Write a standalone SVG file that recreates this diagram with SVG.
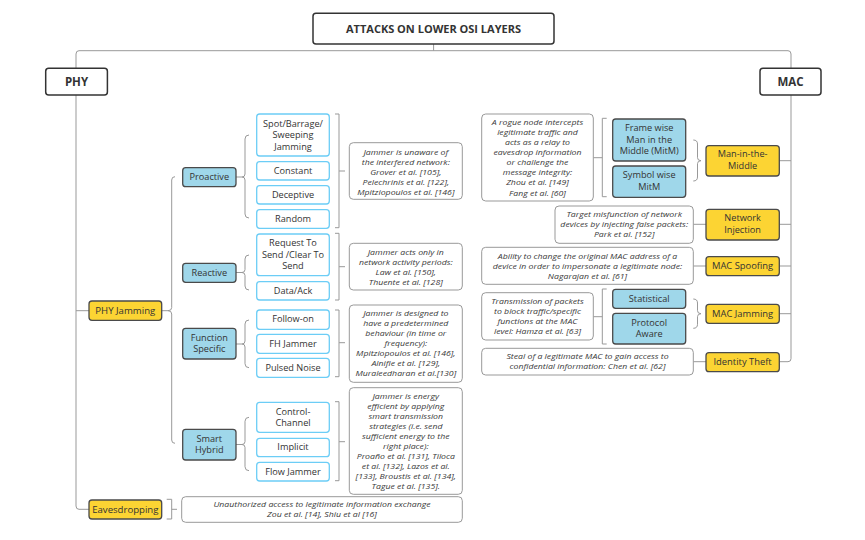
<svg xmlns="http://www.w3.org/2000/svg" width="865" height="540" viewBox="0 0 865 540">
<style>
text{font-family:"Open Sans","Liberation Sans",sans-serif;fill:#333;text-anchor:middle}
.t{font-size:8.2px}
.n{font-size:7.3px;font-style:italic;fill:#383838}
.b{font-weight:bold}
.lb{fill:#fff;stroke:#6ccdf6;stroke-width:1.3}
.bl{fill:#9fd7ea;stroke:#4a4a4a;stroke-width:1.3}
.ye{fill:#fcd433;stroke:#4a4a4a;stroke-width:1.3}
.nt{fill:#fff;stroke:#999;stroke-width:1}
.hd{fill:#fff;stroke:#333;stroke-width:1.5}
.c path,.c line{fill:none;stroke:#999;stroke-width:1}
</style>
<rect width="865" height="540" fill="#fff"/>
<g class="c" id="connectors">
<line x1="433.6" y1="44" x2="433.6" y2="50.7"/>
<path d="M76 68V54Q76 50.7 79 50.7H788Q791 50.7 791 54V68"/>
<path d="M76 95V506Q76 509.3 79 509.3H89"/>
<line x1="76" y1="310.7" x2="89" y2="310.7"/>
<line x1="161.7" y1="310.7" x2="168" y2="310.7"/>
<path d="M175 176.7Q171.7 176.7 171.7 180V307.5Q171.7 310.7 168 310.7Q171.7 310.7 171.7 314V440Q171.7 443.3 175 443.3"/>
<line x1="236" y1="177" x2="242" y2="177"/>
<line x1="236" y1="272.5" x2="242" y2="272.5"/>
<line x1="236" y1="344" x2="242" y2="344"/>
<line x1="236" y1="444.5" x2="242" y2="444.5"/>
<path d="M249 135Q245 135 245 139V174Q245 177 242 177Q245 177 245 180V214Q245 218 249 218"/>
<path d="M249 255Q245 255 245 259V269.5Q245 272.5 242 272.5Q245 272.5 245 275.5V286Q245 290 249 290"/>
<path d="M249 320Q245 320 245 324V341Q245 344 242 344Q245 344 245 347V363.7Q245 367.7 249 367.7"/>
<path d="M249 417.3Q245 417.3 245 421.3V441.5Q245 444.5 242 444.5Q245 444.5 245 447.5V466.7Q245 470.7 249 470.7"/>
<path d="M335 114H339V227.7H335M339 171H345"/>
<path d="M335 233.3H339V300H335M339 266.7H345"/>
<path d="M335 310H339V376.7H335M339 342.7H345"/>
<path d="M335 401.7H339V480.7H335M339 441.7H345"/>
<path d="M166.7 499.3H171.7V519H166.7M171.7 509.3H177"/>
<path d="M593.3 157.7H602.3M606.7 118.3H602.3V196.7H606.7"/>
<path d="M593.3 316.7H602.3M606.7 289H602.3V344H606.7"/>
<path d="M693.3 140Q697.5 140 697.5 144V157.7Q697.5 160.7 701 160.7Q697.5 160.7 697.5 163.7V177Q697.5 181 693.3 181"/>
<path d="M693.3 299Q697.5 299 697.5 303V310.7Q697.5 313.7 701 313.7Q697.5 313.7 697.5 316.7V324.3Q697.5 328.3 693.3 328.3"/>
<line x1="693.3" y1="224.3" x2="706" y2="224.3"/>
<line x1="693.3" y1="266" x2="706" y2="266"/>
<line x1="693.3" y1="361.7" x2="706" y2="361.7"/>
<path d="M791 95V358.7Q791 361.7 788 361.7H779.3"/>
<line x1="779.3" y1="160.7" x2="791" y2="160.7"/>
<line x1="779.3" y1="224.3" x2="791" y2="224.3"/>
<line x1="779.3" y1="266" x2="791" y2="266"/>
<line x1="779.3" y1="313.7" x2="791" y2="313.7"/>
</g>
<g id="title"><rect class="hd" x="313" y="13.3" width="241" height="30.7" rx="3"/><text class="b" x="433.5" y="32.5" font-size="11">ATTACKS ON LOWER OSI LAYERS</text></g>
<g id="phy"><rect class="hd" x="45.7" y="68.3" width="61.7" height="26.7" rx="3"/><text class="b" x="76.5" y="85.5" font-size="11.5">PHY</text></g>
<g id="mac"><rect class="hd" x="760" y="68.3" width="61" height="26.7" rx="3"/><text class="b" x="790.5" y="85.5" font-size="11.5">MAC</text></g>
<g id="phy-jamming"><rect class="ye" x="89" y="301" width="72.7" height="19.3" rx="3"/><text x="125.3" y="314" font-size="9.6">PHY Jamming</text></g>
<g id="eavesdropping"><rect class="ye" x="89" y="500" width="72.7" height="19" rx="3"/><text x="125.3" y="513" font-size="9.6">Eavesdropping</text></g>
<g id="proactive"><rect class="bl" x="182.7" y="167.7" width="53.3" height="19" rx="3"/><g transform="translate(209.3 0) scale(1.12 1)"><text class="t" y="180.3">Proactive</text></g></g>
<g id="reactive"><rect class="bl" x="182.7" y="263.3" width="53.3" height="19" rx="3"/><g transform="translate(209.3 0) scale(1.12 1)"><text class="t" y="275.8">Reactive</text></g></g>
<g id="function-specific"><rect class="bl" x="182.7" y="328.3" width="53.3" height="30.7" rx="3"/><g transform="translate(209.3 0) scale(1.12 1)"><text class="t" y="341">Function</text><text class="t" y="352.3">Specific</text></g></g>
<g id="smart-hybrid"><rect class="bl" x="182.7" y="429.3" width="53.3" height="30.7" rx="3"/><g transform="translate(209.3 0) scale(1.12 1)"><text class="t" y="441.7">Smart</text><text class="t" y="453">Hybrid</text></g></g>
<g id="spot"><rect class="lb" x="256.7" y="114" width="72.6" height="42" rx="3"/><g transform="translate(293 0) scale(1.12 1)"><text class="t" y="127">Spot/Barrage/</text><text class="t" y="138.3">Sweeping</text><text class="t" y="149.6">Jamming</text></g></g>
<g id="constant"><rect class="lb" x="256.7" y="161.7" width="72.6" height="18.3" rx="3"/><g transform="translate(293 0) scale(1.12 1)"><text class="t" y="173.8">Constant</text></g></g>
<g id="deceptive"><rect class="lb" x="256.7" y="185.7" width="72.6" height="18.3" rx="3"/><g transform="translate(293 0) scale(1.12 1)"><text class="t" y="197.8">Deceptive</text></g></g>
<g id="random"><rect class="lb" x="256.7" y="209.7" width="72.6" height="18.6" rx="3"/><g transform="translate(293 0) scale(1.12 1)"><text class="t" y="222">Random</text></g></g>
<g id="rts"><rect class="lb" x="256.7" y="234" width="72.6" height="41.7" rx="3"/><g transform="translate(293 0) scale(1.12 1)"><text class="t" y="246.5">Request To</text><text class="t" y="257.8">Send /Clear To</text><text class="t" y="269.1">Send</text></g></g>
<g id="data-ack"><rect class="lb" x="256.7" y="281.7" width="72.6" height="18.3" rx="3"/><g transform="translate(293 0) scale(1.12 1)"><text class="t" y="293.8">Data/Ack</text></g></g>
<g id="follow-on"><rect class="lb" x="256.7" y="310" width="72.6" height="19.3" rx="3"/><g transform="translate(293 0) scale(1.12 1)"><text class="t" y="322.5">Follow-on</text></g></g>
<g id="fh-jammer"><rect class="lb" x="256.7" y="334.3" width="72.6" height="19" rx="3"/><g transform="translate(293 0) scale(1.12 1)"><text class="t" y="346.8">FH Jammer</text></g></g>
<g id="pulsed-noise"><rect class="lb" x="256.7" y="358.3" width="72.6" height="19" rx="3"/><g transform="translate(293 0) scale(1.12 1)"><text class="t" y="370.8">Pulsed Noise</text></g></g>
<g id="control-channel"><rect class="lb" x="256.7" y="402.3" width="72.6" height="30" rx="3"/><g transform="translate(293 0) scale(1.12 1)"><text class="t" y="414.7">Control-</text><text class="t" y="426">Channel</text></g></g>
<g id="implicit"><rect class="lb" x="256.7" y="438.3" width="72.6" height="18.4" rx="3"/><g transform="translate(293 0) scale(1.12 1)"><text class="t" y="450.5">Implicit</text></g></g>
<g id="flow-jammer"><rect class="lb" x="256.7" y="462.3" width="72.6" height="18.7" rx="3"/><g transform="translate(293 0) scale(1.12 1)"><text class="t" y="474.6">Flow Jammer</text></g></g>
<g id="note-proactive"><rect class="nt" x="349.3" y="142.7" width="113" height="56.6" rx="4"/><g transform="translate(405.8 0) scale(1.2 1)">
<text class="n" y="154.8">Jammer is unaware of</text><text class="n" y="164.8">the interfered network:</text><text class="n" y="174.8">Grover et al. [105],</text><text class="n" y="184.8">Pelechrinis et al. [122],</text><text class="n" y="194.8">Mpitziopoulos et al. [146]</text></g></g>
<g id="note-reactive"><rect class="nt" x="349.3" y="243.3" width="113" height="46.7" rx="4"/><g transform="translate(405.8 0) scale(1.2 1)">
<text class="n" y="255">Jammer acts only in</text><text class="n" y="265">network activity periods:</text><text class="n" y="275">Law et al. [150],</text><text class="n" y="285">Thuente et al. [128]</text></g></g>
<g id="note-function"><rect class="nt" x="349.3" y="305" width="113" height="77.3" rx="4"/><g transform="translate(405.8 0) scale(1.2 1)">
<text class="n" y="316">Jammer is designed to</text><text class="n" y="326">have a predetermined</text><text class="n" y="336">behaviour (in time or</text><text class="n" y="346">frequency):</text><text class="n" y="356">Mpitziopoulos et al. [146],</text><text class="n" y="366">Alnifie et al. [129],</text><text class="n" y="376.4">Muraleedharan et al.[130]</text></g></g>
<g id="note-smart"><rect class="nt" x="349.3" y="387.7" width="113" height="106.6" rx="4"/><g transform="translate(405.8 0) scale(1.2 1)">
<text class="n" y="398.7">Jammer is energy</text><text class="n" y="408.7">efficient by applying</text><text class="n" y="418.7">smart transmission</text><text class="n" y="428.7">strategies (i.e. send</text><text class="n" y="438.7">sufficient energy to the</text><text class="n" y="448.7">right place):</text><text class="n" y="458.7">Proaño et al. [131], Tiloca</text><text class="n" y="468.7">et al. [132], Lazos et al.</text><text class="n" y="479">[133],  Broustis et al. [134],</text><text class="n" y="489.2">Tague et al. [135].</text></g></g>
<g id="note-eaves"><rect class="nt" x="181.7" y="496.7" width="280.6" height="25.6" rx="4"/><g transform="translate(322 0) scale(1.2 1)">
<text class="n" y="507">Unauthorized access to legitimate information exchange</text><text class="n" y="517">Zou et al. [14], Shiu et al [16]</text></g></g>
<g id="note-mitm"><rect class="nt" x="481.7" y="114" width="111.6" height="87" rx="4"/><g transform="translate(537.5 0) scale(1.2 1)">
<text class="n" y="125.4">A rogue node intercepts</text><text class="n" y="135.4">legitimate traffic and</text><text class="n" y="145.4">acts as a relay to</text><text class="n" y="155.4">eavesdrop information</text><text class="n" y="165.4">or challenge the</text><text class="n" y="175.4">message integrity:</text><text class="n" y="185.4">Zhou et al. [149]</text><text class="n" y="195.8">Fang et al. [60]</text></g></g>
<g id="frame-wise"><rect class="bl" x="612.7" y="119" width="73" height="42" rx="3"/><g transform="translate(649.2 0) scale(1.12 1)"><text class="t" y="131.3">Frame wise</text><text class="t" y="143">Man in the</text><text class="t" y="154.3">Middle (MitM)</text></g></g>
<g id="symbol-wise"><rect class="bl" x="612.7" y="166" width="73" height="31.3" rx="3"/><g transform="translate(649.2 0) scale(1.12 1)"><text class="t" y="178.5">Symbol wise</text><text class="t" y="190.3">MitM</text></g></g>
<g id="mitm"><rect class="ye" x="706" y="145.7" width="73.3" height="30.3" rx="3"/><g transform="translate(742.6 0) scale(1.12 1)"><text class="t" y="157.5">Man-in-the-</text><text class="t" y="169">Middle</text></g></g>
<g id="note-injection"><rect class="nt" x="555" y="206" width="138.3" height="37.3" rx="4"/><g transform="translate(624.2 0) scale(1.2 1)">
<text class="n" y="217">Target misfunction of network</text><text class="n" y="227">devices by injecting false packets:</text><text class="n" y="237.3">Park et al. [152]</text></g></g>
<g id="injection"><rect class="ye" x="706" y="209.3" width="73.3" height="30.7" rx="3"/><g transform="translate(742.6 0) scale(1.12 1)"><text class="t" y="221.5">Network</text><text class="t" y="233">Injection</text></g></g>
<g id="note-spoofing"><rect class="nt" x="481.7" y="247.3" width="211.6" height="37" rx="4"/><g transform="translate(587.5 0) scale(1.2 1)">
<text class="n" y="258.6">Ability to change the original MAC address of a</text><text class="n" y="268.6">device in order to impersonate a legitimate node:</text><text class="n" y="278.6">Nagarajan et al. [61]</text></g></g>
<g id="spoofing"><rect class="ye" x="706" y="256.7" width="73.3" height="19" rx="3"/><text x="742.6" y="269.3" font-size="9.4">MAC Spoofing</text></g>
<g id="note-macjam"><rect class="nt" x="481.7" y="292.7" width="111.6" height="47.3" rx="4"/><g transform="translate(537.5 0) scale(1.2 1)">
<text class="n" y="304.4">Transmission of packets</text><text class="n" y="314.4">to block  traffic/specific</text><text class="n" y="324.4">functions at the MAC</text><text class="n" y="334.4">level: Hamza et al. [63]</text></g></g>
<g id="statistical"><rect class="bl" x="612.7" y="289.3" width="73" height="19" rx="3"/><g transform="translate(649.2 0) scale(1.12 1)"><text class="t" y="301.8">Statistical</text></g></g>
<g id="protocol-aware"><rect class="bl" x="612.7" y="313.3" width="73" height="30.7" rx="3"/><g transform="translate(649.2 0) scale(1.12 1)"><text class="t" y="325.7">Protocol</text><text class="t" y="337.2">Aware</text></g></g>
<g id="macjam"><rect class="ye" x="706" y="304.3" width="73.3" height="19" rx="3"/><text x="742.6" y="317" font-size="9.4">MAC Jamming</text></g>
<g id="note-identity"><rect class="nt" x="481.7" y="348.3" width="211.6" height="26.7" rx="4"/><g transform="translate(587.5 0) scale(1.2 1)">
<text class="n" y="359.4">Steal of a legitimate MAC to gain access to</text><text class="n" y="369.4">confidential information:  Chen et al. [62]</text></g></g>
<g id="identity"><rect class="ye" x="706" y="352.7" width="73.3" height="19" rx="3"/><text x="742.6" y="365.3" font-size="9.4">Identity Theft</text></g>
</svg>
